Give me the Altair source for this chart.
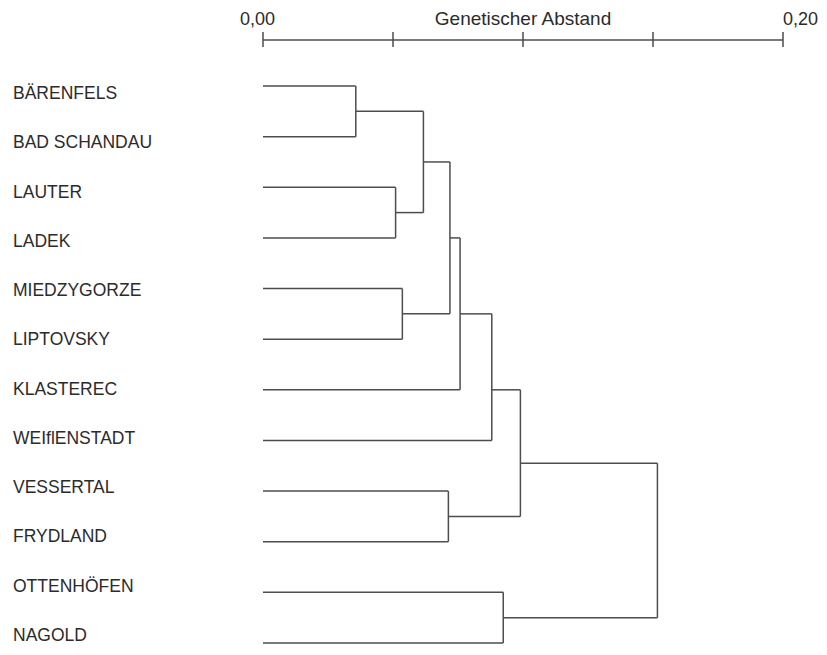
import altair as alt
import pandas as pd

# ---- data ----
leaves = ["BÄRENFELS", "BAD SCHANDAU", "LAUTER", "LADEK", "MIEDZYGORZE", "LIPTOVSKY",
          "KLASTEREC", "WEIflENSTADT", "VESSERTAL", "FRYDLAND", "OTTENHÖFEN", "NAGOLD"]
# merge steps: children ("L#" = leaf index, "N#" = earlier merge number, 1-based)
merge_a = ["L0", "L2", "N1", "L4", "N3", "N5", "N6", "L8", "N7", "L10", "N9"]
merge_b = ["L1", "L3", "N2", "L5", "N4", "L6", "L7", "L9", "N8", "L11", "N10"]
merge_height = [0.0357, 0.0510, 0.0617, 0.0536, 0.0719, 0.0758, 0.0880, 0.0713, 0.0990, 0.0924, 0.1517]
# vertical position (in leaf rows) where each merged cluster's branch leaves
merge_pos = [0.5, 2.5, 1.5, 4.5, 3.0, 4.5, 6.0, 8.5, 7.45, 10.5, 9.0]
tick_values = [0.0, 0.05, 0.10, 0.15, 0.20]
axis_title = "Genetischer Abstand"
label_first = "0,00"
label_last = "0,20"

# ---- build segments ----
def node_info(ref):
    if ref.startswith("L"):
        return 0.0, float(int(ref[1:]))
    k = int(ref[1:]) - 1
    return merge_height[k], merge_pos[k]

segs = []
for a, b, h in zip(merge_a, merge_b, merge_height):
    ha, ya = node_info(a)
    hb, yb = node_info(b)
    segs.append(dict(x=ha, x2=h, y=ya, y2=ya))
    segs.append(dict(x=hb, x2=h, y=yb, y2=yb))
    segs.append(dict(x=h, x2=h, y=ya, y2=yb))
seg_df = pd.DataFrame(segs)
leaf_df = pd.DataFrame({"name": leaves, "pos": list(range(len(leaves)))})
tick_df = pd.DataFrame({"v": tick_values})

LINE = "#4d4d4d"
TEXT = "#2b2b2b"
FONT = "Liberation Sans"

xs = alt.Scale(domain=[0, 0.2], nice=False, zero=False)
ys = alt.Scale(domain=[0, 11], range=[78, 635], nice=False, zero=False)
ys_labels = alt.Scale(domain=[0, 11], range=[91, 633], nice=False, zero=False)

branches = alt.Chart(seg_df).mark_rule(color=LINE, strokeWidth=1.5).encode(
    x=alt.X("x:Q", scale=xs, axis=None),
    x2="x2:Q",
    y=alt.Y("y:Q", scale=ys, axis=None),
    y2="y2:Q",
)

labels = alt.Chart(leaf_df).mark_text(
    align="left", baseline="alphabetic", font=FONT, fontSize=17.5, color=TEXT
).encode(
    x=alt.value(-250),
    y=alt.Y("pos:Q", scale=ys_labels, axis=None),
    text="name:N",
)

axis_line = alt.Chart(pd.DataFrame({"a": [tick_values[0]], "b": [tick_values[-1]]})).mark_rule(
    color=LINE, strokeWidth=1.5
).encode(
    x=alt.X("a:Q", scale=xs, axis=None), x2="b:Q", y=alt.value(32)
)

ticks = alt.Chart(tick_df).mark_rule(color=LINE, strokeWidth=1.5).encode(
    x=alt.X("v:Q", scale=xs, axis=None), y=alt.value(24), y2=alt.value(39)
)

t_first = alt.Chart(pd.DataFrame({"v": [tick_values[0]], "t": [label_first]})).mark_text(
    align="right", baseline="alphabetic", dx=12, font=FONT, fontSize=18, color=TEXT
).encode(x=alt.X("v:Q", scale=xs, axis=None), y=alt.value(17), text="t:N")

t_title = alt.Chart(pd.DataFrame({"v": [0.10], "t": [axis_title]})).mark_text(
    align="center", baseline="alphabetic", font=FONT, fontSize=19, color=TEXT
).encode(x=alt.X("v:Q", scale=xs, axis=None), y=alt.value(17), text="t:N")

t_last = alt.Chart(pd.DataFrame({"v": [tick_values[-1]], "t": [label_last]})).mark_text(
    align="left", baseline="alphabetic", dx=0, font=FONT, fontSize=18, color=TEXT
).encode(x=alt.X("v:Q", scale=xs, axis=None), y=alt.value(17), text="t:N")

chart = alt.layer(branches, labels, axis_line, ticks, t_first, t_title, t_last).resolve_scale(
    y="independent"
).properties(
    width=520,
    height=639,
    autosize=alt.AutoSizeParams(type="none"),
    padding={"left": 255, "top": 0, "right": 36, "bottom": 0},
    background="white",
).configure_view(stroke=None)

chart.save("out.html", embed_options={"renderer": "svg", "actions": False})
